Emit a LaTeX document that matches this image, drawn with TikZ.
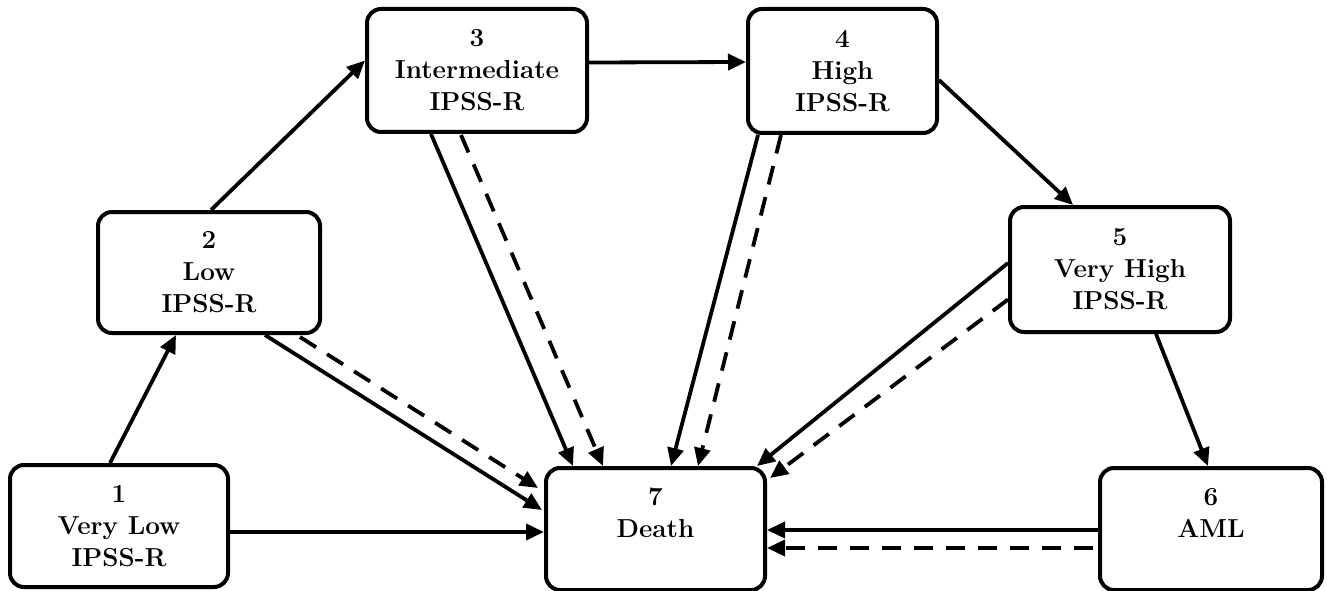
\documentclass[tikz,border=0pt]{standalone}
\usepackage{fontspec}
\usetikzlibrary{arrows.meta,calc}
\begin{document}
\begin{tikzpicture}[x=1pt,y=-1pt,
  box/.style={draw,line width=4pt,rounded corners=14pt,fill=white,align=center,
    font=\fontsize{26}{32}\selectfont\bfseries,inner sep=0pt},
  conn/.style={line width=3.8pt,-{Triangle[length=18pt,width=16pt]}},
  dconn/.style={conn,dash pattern=on 19pt off 13pt}]
\useasboundingbox (0,0) rectangle (1327,591);
\node[box,minimum width=218pt,minimum height=122pt] (n1) at (119,526) {1\\Very Low\\IPSS-R};
\node[box,minimum width=222pt,minimum height=121pt] (n2) at (209,272.5) {2\\Low\\IPSS-R};
\node[box,minimum width=220pt,minimum height=123pt] (n3) at (477,70.5) {3\\Intermediate\\IPSS-R};
\node[box,minimum width=189pt,minimum height=124pt] (n4) at (842.5,71) {4\\High\\IPSS-R};
\node[box,minimum width=220pt,minimum height=125pt] (n5) at (1120,269.5) {5\\Very High\\IPSS-R};
\node[box,minimum width=222pt,minimum height=122pt] (n6) at (1211,529) {6\\AML\\\mbox{}};
\node[box,minimum width=219pt,minimum height=122pt] (n7) at (655.5,529) {7\\Death\\\mbox{}};
% forward transitions
\draw[conn] ($(n1.north west)+(102,0)$) -- ($(n2.south west)+(80,0)$);
\draw[conn] ($(n2.north west)+(115,0)$) -- ($(n3.west)+(0,-10)$);
\draw[conn] ($(n3.east)+(0,-8)$) -- ($(n4.west)+(0,-9)$);
\draw[conn] ($(n4.east)+(0,9)$) -- ($(n5.north west)+(65,0)$);
\draw[conn] ($(n5.south west)+(148,0)$) -- ($(n6.north west)+(110,0)$);
% to death
\draw[conn] ($(n1.east)+(0,6)$) -- ($(n7.west)+(0,3)$);
\draw[conn] ($(n2.south east)+(-57,0)$) -- ($(n7.west)+(-2,-19)$);
\draw[dconn] ($(n2.south east)+(-22,2)$) -- ($(n7.north west)+(-6,22)$);
\draw[conn] ($(n3.south west)+(66,0)$) -- ($(n7.north west)+(29,0)$);
\draw[dconn] ($(n3.south west)+(96,1)$) -- ($(n7.north west)+(59,0)$);
\draw[conn] ($(n4.south west)+(12,0)$) -- ($(n7.north west)+(127,0)$);
\draw[dconn] ($(n4.south west)+(35,0)$) -- ($(n7.north west)+(154,0)$);
\draw[conn] ($(n5.west)+(0,-6.5)$) -- ($(n7.north east)+(-10,0)$);
\draw[dconn] ($(n5.west)+(0,30)$) -- ($(n7.north east)+(3,12)$);
\draw[conn] ($(n6.west)+(0,1)$) -- ($(n7.east)+(0,1)$);
\draw[dconn] ($(n6.west)+(-5,19)$) -- ($(n7.east)+(0,19)$);
\end{tikzpicture}
\end{document}
